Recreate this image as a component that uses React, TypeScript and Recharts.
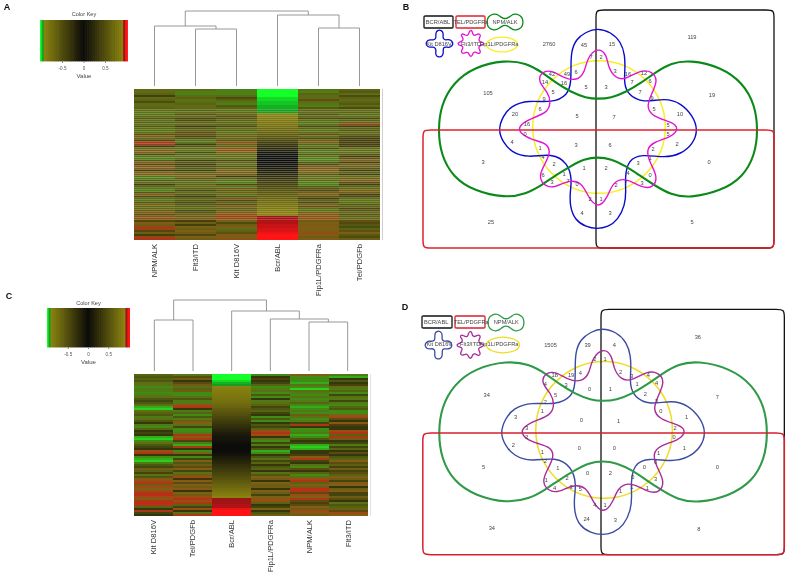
import React from 'react';
import { BarChart, Bar, Cell, ComposedChart, Line, LabelList, XAxis, YAxis } from 'recharts';

const FONT = '"Liberation Sans", Arial, sans-serif';

// heatmap A, one list per column, top row first
const npmA = [-5,-5,-4,-1,-5,-4,-2,-5,-5,-4,-5,-6,-6,-5,-3,-5,-4,-6,-3,-5,-6,-6,3,6,-5,-2,9,9,-1,-5,6,5,-2,-6,-7,-3,6,-2,7,5,-1,5,6,-6,-7,-3,-5,-1,-4,-6,-7,3,5,-2,-5,-6,-3,5,-5,-5,4,6,3,6,7,2,5,4,8,8,2,4,-1,8,9];
const flt3A = [-5,-7,-7,-5,-4,-6,-5,-4,-5,-5,-4,-6,3,-5,-2,-2,-4,-5,-1,-3,-4,3,3,2,-3,-6,-6,-1,-3,-5,-6,-2,-4,-6,-5,-1,-3,1,-2,-3,-1,-4,4,5,-3,-4,-5,-4,-5,-4,-2,-5,-3,-1,-4,-3,-2,-3,-4,-5,-2,-3,4,4,5,1,4,-1,5,4,5,4,2,5,4];
const kitA = [-7,-7,-7,-5,-2,-4,-6,-7,-3,-4,-6,-5,-5,3,-3,-4,-5,-4,-2,-5,-4,-6,-5,4,-5,-3,7,4,-4,6,7,5,-5,-5,-6,2,-4,-5,-3,-4,5,5,4,-1,-4,-5,-7,2,-6,4,-4,4,-6,3,4,2,-4,3,5,-4,4,5,7,8,7,5,-2,4,5,-5,-4,3,6,5,7];
const bcrA = [-1,-1,-1,-1,-0.98,-0.98,-0.97,-0.97,-0.96,-0.96,-0.95,-0.95,-0.9,-0.88,-0.85,-0.82,-0.8,-0.78,-0.75,-0.72,-0.7,-0.66,-0.62,-0.58,-0.52,-0.46,-0.4,-0.34,-0.28,-0.22,-0.15,-0.08,-0.04,-0.02,0,0,0.02,0.04,0.07,0.1,0.14,0.18,0.22,0.26,0.3,0.34,0.38,0.42,0.46,0.5,0.54,0.57,0.6,0.64,0.67,0.7,0.73,0.76,0.79,0.82,0.85,0.88,0.9,0.95,0.95,0.96,0.96,0.97,0.97,0.98,0.98,0.99,1,1,1];
const fipA = [-6,-7,-4,-5,-5,3,-5,-6,-7,-3,-4,-5,-3,-5,-2,-5,-6,-6,-2,-4,-6,-5,3,-5,-2,4,5,-4,-6,-2,-6,-6,-3,-5,-7,-7,-3,2,4,6,5,5,-3,-5,-6,4,-7,-7,-3,3,-2,4,5,3,-1,-4,-2,5,3,-5,-6,5,6,7,7,4,5,6,5,5,6,7,6,4,6];
const telA = [-4,-3,-5,-2,-4,-5,-4,-3,-5,-2,-5,-4,-5,-6,-2,-4,-5,8,-1,-4,-3,-5,-4,-2,1,1,1,1,1,-5,-5,-6,3,-1,3,5,1,4,4,-3,1,-4,-1,-5,4,5,3,-1,-4,-5,5,4,-1,2,-5,-6,-5,-3,-4,2,-3,-5,3,-4,-5,3,2,-3,-2,-4,3,5,-3,-2,4];

// heatmap C
const kitC = [-4,-3,-4,-3,-5,-5,-7,-6,-6,-7,-6,-5,-3,-2,-3,-5,-8,-9,-5,-4,-3,-6,-5,-3,-1,-6,-7,-4,-1,-2,-1,-8,-9,-7,-5,-3,-2,-1,7,8,-1,-7,-8,-9,-6,-3,-2,4,-4,2,-5,-3,6,7,8,4,7,5,7,8,9,7,6,8,9,8,-4,-1,8,-2,-1];
const telC = [-6,3,4,-1,3,4,-5,-4,4,-7,-7,-5,-3,-6,-6,7,8,-1,-6,-4,-7,-3,-6,4,5,-5,-2,-7,-7,-6,8,6,8,-2,-6,-8,8,-1,-7,5,-1,-7,-2,5,-3,4,3,5,-2,-5,4,7,1,5,3,5,4,6,-1,5,4,7,8,7,8,-4,-2,7,-1,-5,8];
const bcrC = [-1,-1,-1,-0.98,-0.96,-0.95,-0.9,-0.88,-0.86,-0.84,-0.82,-0.8,-0.78,-0.76,-0.74,-0.7,-0.66,-0.62,-0.58,-0.54,-0.5,-0.46,-0.42,-0.38,-0.34,-0.3,-0.26,-0.22,-0.18,-0.14,-0.1,-0.08,-0.06,-0.04,-0.02,0,0,0,0,0.03,0.06,0.1,0.14,0.18,0.22,0.26,0.3,0.34,0.38,0.42,0.46,0.5,0.54,0.58,0.62,0.66,0.7,0.74,0.78,0.82,0.86,0.9,0.95,0.95,0.95,0.96,0.96,0.99,1,1,1];
const fipC = [-7,-1,2,-1,-2,-4,-7,-6,-5,-7,-3,-7,-1,-6,-5,-4,-2,-3,-4,-2,-1,-7,-3,-7,-1,-3,-2,-4,7,8,7,-1,-5,-7,-2,-6,-1,-3,-8,-7,-1,-3,-5,-2,-4,-1,-3,-4,-1,-5,-3,5,4,-1,5,4,4,-1,5,4,-2,5,6,7,-4,-1,-2,5,-1,-3,4];
const npmC = [5,-7,-7,-7,-8,-5,-7,-9,-5,-6,-7,-5,-7,-6,-4,-7,-8,-7,-6,-7,4,-5,-7,-6,-2,8,-1,-7,-7,-6,-8,-7,-3,-1,-2,-8,-9,-8,-1,-1,2,5,8,-2,-1,-5,-7,3,1,-4,-7,-5,7,8,-4,5,4,9,8,3,7,5,8,3,2,3,5,4,7,6,4];
const flt3C = [-6,-8,-1,-3,-1,2,-5,-6,-4,-7,-2,-5,-6,-2,-6,-7,-4,-3,-7,-7,5,7,3,-1,6,2,1,-1,7,8,-4,8,4,-1,-2,-6,-2,-4,-1,3,-1,-3,-4,5,3,-4,2,4,-2,3,-4,5,4,-2,6,5,-1,4,5,2,-2,4,3,-1,-5,-3,-4,4,3,7,5];

const columnsA = [
	{ name: 'NPM/ALK', values: npmA },
	{ name: 'Flt3/ITD', values: flt3A },
	{ name: 'Kit D816V', values: kitA },
	{ name: 'Bcr/ABL', values: bcrA, sorted: true },
	{ name: 'Fip1L/PDGFRa', values: fipA },
	{ name: 'Tel/PDGFb', values: telA },
];
const columnsC = [
	{ name: 'Kit D816V', values: kitC },
	{ name: 'Tel/PDGFb', values: telC },
	{ name: 'Bcr/ABL', values: bcrC, sorted: true },
	{ name: 'Fip1L/PDGFRa', values: fipC },
	{ name: 'NPM/ALK', values: npmC },
	{ name: 'Flt3/ITD', values: flt3C },
];

// dendrogram merges: x1, h1, x2, h2, merge height
const mergesA = [
	[1.5, 0, 2.5, 0, 57],
	[0.5, 0, 2, 57, 60],
	[4.5, 0, 5.5, 0, 58],
	[3.5, 0, 5, 58, 71],
	[1.25, 60, 4.25, 71, 75],
];
const mergesC = [
	[0.5, 0, 1.5, 0, 51],
	[4.5, 0, 5.5, 0, 49],
	[3.5, 0, 5, 49, 52],
	[2.5, 0, 4.25, 52, 60],
	[1, 51, 3.4, 60, 71],
];

const keyLevels = [-1,-0.95,-0.9,-0.85,-0.8,-0.75,-0.7,-0.65,-0.6,-0.55,-0.5,-0.45,-0.4,-0.35,-0.3,-0.25,-0.2,-0.15,-0.1,-0.05,0,0.05,0.1,0.15,0.2,0.25,0.3,0.35,0.4,0.45,0.5,0.55,0.6,0.65,0.7,0.75,0.8,0.85,0.9,0.95,1];
const keyTicks = [-0.5, 0, 0.5];

// colours for the mixed columns, value -9..9
const heatScale = [[30,235,30],[40,190,25],[55,150,20],[75,130,20],[90,115,20],[85,100,18],[70,85,15],[55,65,12],[40,45,10],[30,30,10],[50,42,10],[70,55,12],[90,70,15],[115,90,20],[135,95,20],[145,85,20],[170,70,20],[190,45,20],[215,30,25]];
const heatMean = [102, 96, 20];

// venn outlines, centre of the diagram at 0,0
const greenOutline = [[-158,0],[-155,-25],[-143,-47],[-122,-63],[-91,-70],[-70,-67],[-54,-58],[-40,-47],[-25,-38],[-10,-32],[2,-31],[15,-32],[30,-38],[45,-47],[60,-58],[75,-67],[94,-70],[125,-63],[147,-47],[159,-25],[162,0],[159,25],[147,47],[125,61],[94,68],[75,65],[58,55],[43,45],[30,36],[15,29],[2,27],[-12,29],[-25,36],[-40,45],[-54,55],[-70,64],[-91,68],[-122,61],[-143,47],[-155,25]];
const blueOutline = [[1,-102],[15,-98],[25,-88],[29,-75],[29,-60],[28,-47],[32,-35],[47,-27],[69,-32],[85,-27],[97,-14],[102,0],[97,14],[85,24],[69,28],[46,24],[32,30],[29,47],[30,62],[29,75],[22,90],[12,97],[1,99],[-10,97],[-21,90],[-26,77],[-26,62],[-24,50],[-28,33],[-44,23],[-68,28],[-85,22],[-93,12],[-98,0],[-93,-14],[-85,-24],[-68,-30],[-44,-27],[-28,-35],[-25,-48],[-25,-62],[-25,-78],[-20,-91],[-10,-98]];
const magentaOutline = [[2,-83],[-9,-72],[-11,-58],[-19,-49],[-33,-52],[-44,-60],[-55,-58],[-58,-48],[-48,-38],[-45,-27],[-49,-17],[-64,-12],[-77,-5],[-77,3],[-64,10],[-49,13],[-45,23],[-53,37],[-57,47],[-52,56],[-41,58],[-28,50],[-14,52],[-8,67],[2,79],[12,67],[16,53],[29,47],[46,58],[57,58],[62,47],[54,33],[50,20],[57,12],[76,7],[83,-2],[76,-8],[57,-13],[50,-23],[56,-37],[62,-50],[56,-59],[44,-60],[29,-50],[19,-52],[12,-63],[11,-75]];
const yellowOutline = [[71,-3],[66,23],[51,45],[29,60],[3,65],[-23,60],[-45,45],[-60,23],[-65,-3],[-60,-29],[-45,-51],[-23,-66],[3,-71],[29,-66],[51,-51],[66,-29]];
const blackOutline = [[0,-104],[0,-112],[0,-120],[8,-120],[16,-120],[162,-120],[170,-120],[178,-120],[178,-112],[178,-104],[178,102],[178,110],[178,118],[170,118],[162,118],[16,118],[8,118],[0,118],[0,110],[0,102]];
const redOutline = [[-173,16],[-173,8],[-173,0],[-165,0],[-157,0],[162,0],[170,0],[178,0],[178,8],[178,16],[178,102],[178,110],[178,118],[170,118],[162,118],[-157,118],[-165,118],[-173,118],[-173,110],[-173,102]];
const legendBox = [[0,3],[0,1.5],[0,0],[1.5,0],[3,0],[27,0],[28.5,0],[30,0],[30,1.5],[30,3],[30,9],[30,10.5],[30,12],[28.5,12],[27,12],[3,12],[1.5,12],[0,12],[0,10.5],[0,9]];

// region counts: x, y, count
const countsB = [[-47,-86,2760],[-12,-85,45],[16,-86,15],[96,-93,119],[-5,-73,7],[5,-73,2],[-44,-56,42],[-29,-56,49],[-20,-58,6],[19,-59,3],[32,-56,16],[48,-57,12],[-51,-48,14],[-32,-47,16],[-10,-43,5],[10,-43,3],[36,-48,7],[54,-49,6],[-108,-37,105],[116,-35,19],[-43,-38,5],[44,-38,7],[-52,-31,9],[56,-32,9],[-56,-21,6],[58,-21,5],[-81,-16,20],[84,-16,10],[-19,-14,5],[18,-13,7],[-69,-6,16],[72,-5,5],[-71,4,0],[72,4,5],[-84,12,4],[81,14,2],[-20,15,3],[14,15,6],[-56,18,1],[57,19,2],[-53,27,4],[54,28,1],[-113,32,3],[113,32,0],[-42,34,2],[42,33,3],[-53,45,6],[-32,44,1],[-12,38,1],[10,38,2],[32,43,4],[54,45,0],[-44,52,3],[-28,51,7],[-19,54,0],[20,55,2],[30,52,7],[46,53,3],[-6,69,2],[5,69,1],[-14,83,4],[14,83,3],[-105,92,25],[96,92,5]];
const countsD = [[-49,-85,1505],[-13,-85,39],[13,-85,4],[94,-93,36],[-6,-72,2],[4,-72,1],[-45,-56,18],[-29,-56,19],[-20,-58,4],[19,-59,2],[30,-55,3],[46,-56,4],[-54,-48,4],[-34,-47,3],[-11,-43,0],[9,-43,1],[35,-48,1],[54,-49,4],[-111,-37,34],[113,-35,7],[-44,-37,5],[43,-38,2],[-54,-30,2],[54,-31,3],[-57,-21,1],[58,-21,0],[-83,-16,3],[83,-16,1],[-19,-13,0],[17,-12,1],[-72,-5,3],[72,-5,2],[-72,4,2],[71,4,0],[-85,12,2],[81,15,1],[-21,15,0],[13,15,0],[-57,18,1],[56,19,1],[-54,27,2],[53,28,0],[-114,33,5],[113,33,0],[-42,34,1],[42,33,0],[-53,46,1],[-33,44,2],[-13,39,0],[9,39,2],[31,43,0],[53,45,3],[-45,53,4],[-29,52,3],[-20,54,5],[19,56,1],[30,52,1],[45,53,1],[-6,70,4],[4,70,1],[-14,83,24],[14,84,3],[-106,92,34],[95,93,8]];

const legendNames = ['BCR/ABL', 'TEL/PDGFRa', 'NPM/ALK', 'Kit D816V', 'Flt3/ITD', 'Fip1L/PDGFRa'];
const legendXB = [-158, -125, -91, -157, -125, -97];
const legendXD = [-160, -126, -92, -157, -127, -99];
const legendY = [-108, -108, -108, -86, -86, -86];

const coloursB = { black: '#111111', red: '#e2202c', green: '#0b8a1a', blue: '#0a0acb', magenta: '#e214d2', yellow: '#f8ee22' };
const coloursD = { black: '#111111', red: '#d6202e', green: '#2f9a48', blue: '#3c4ba2', magenta: '#a92b9c', yellow: '#eddd24' };

const keyColour = (v: number) => {
	if (v <= -0.94) {
		const t = (-v - 0.94) / 0.06;
		return `rgb(20,${Math.round(140 + 115 * t)},${Math.round(30 + 10 * t)})`;
	}
	if (v >= 0.94) {
		const t = (v - 0.94) / 0.06;
		return `rgb(${Math.round(140 + 115 * t)},20,22)`;
	}
	const m = Math.abs(v) / 0.9;
	return `rgb(${Math.round(12 + 125 * m)},${Math.round(12 + 118 * m)},${Math.round(10 + 6 * m)})`;
};

const heatColour = (v: number, soften: number) => {
	const [r, g, b] = heatScale[v + 9].map((c, i) => Math.round(c + (heatMean[i] - c) * soften));
	return `rgb(${r},${g},${b})`;
};

const toPoints = (outline: number[][]) => outline.map(([x, y]) => ({ x, y }));

const Caption = ({ x, y, text, size, bold }: any) => (
	<div style={{ position: 'absolute', left: x - 50, top: y - size / 2 - 1, width: 100, textAlign: 'center', fontFamily: FONT, fontSize: size, lineHeight: `${size + 2}px`, fontWeight: bold ? 700 : 400, color: bold ? '#111' : '#444' }}>{text}</div>
);

const ColorKey = ({ left, top, width, height }: any) => {
	const data = keyLevels.map((v) => ({ v, one: 1 }));
	return (
		<div style={{ position: 'absolute', left, top }}>
			<BarChart width={width} height={height + 20} data={data} barCategoryGap={0} margin={{ top: 0, right: 0, bottom: 0, left: 0 }}>
				<XAxis dataKey="v" ticks={keyTicks} interval={0} height={20} tickSize={2} tickMargin={4} tick={{ fontSize: 4.6, fontFamily: FONT, fill: '#555' }} stroke="#888" axisLine={false} label={{ value: 'Value', position: 'insideBottom', offset: 3, fontSize: 6, fontFamily: FONT, fill: '#444' }} />
				<YAxis hide domain={[0, 1]} />
				<Bar dataKey="one" isAnimationActive={false}>
					{data.map((d) => <Cell key={d.v} fill={keyColour(d.v)} stroke={keyColour(d.v)} strokeWidth={1} />)}
				</Bar>
			</BarChart>
		</div>
	);
};

const Dendrogram = ({ merges, left, top, width, height }: any) => (
	<div style={{ position: 'absolute', left, top }}>
		<ComposedChart width={width} height={height} margin={{ top: 0, right: 0, bottom: 0, left: 0 }}>
			<XAxis hide type="number" dataKey="x" domain={[0, 6]} />
			<YAxis hide type="number" dataKey="y" domain={[0, 80]} />
			{merges.map(([x1, h1, x2, h2, h]: number[], i: number) => (
				<Line key={i} data={[{ x: x1, y: h1 }, { x: x1, y: h }, { x: x2, y: h }, { x: x2, y: h2 }]} dataKey="y" type="linear" stroke="#8c8c8c" strokeWidth={0.9} dot={false} isAnimationActive={false} />
			))}
		</ComposedChart>
	</div>
);

const ColumnTick = ({ x, y, payload }: any) => (
	<text transform={`translate(${x + 2.7},${y}) rotate(-90)`} textAnchor="end" fontSize={7.6} fontFamily={FONT} fill="#333">{payload.value}</text>
);

const Heatmap = ({ columns, left, top, width, height, soften }: any) => {
	const rowCount = columns[0].values.length;
	const rows = Array.from({ length: rowCount }, (_, i) => i);
	const data = columns.map((c: any) => {
		const d: any = { name: c.name };
		rows.forEach((r) => { d[`r${r}`] = 1; });
		return d;
	});
	return (
		<div style={{ position: 'absolute', left, top, width, height: height + 72, filter: 'blur(0.4px)' }}>
			<BarChart width={width} height={height + 72} data={data} barCategoryGap={0} margin={{ top: 0, right: 0, bottom: 0, left: 0 }}>
				<XAxis dataKey="name" interval={0} height={72} axisLine={false} tickLine={false} tickSize={0} tickMargin={4} tick={<ColumnTick />} />
				<YAxis hide reversed domain={[0, rowCount]} />
				{rows.map((r) => (
					<Bar key={r} dataKey={`r${r}`} stackId="rows" isAnimationActive={false} stroke="none">
						{columns.map((c: any) => (
							<Cell key={c.name} fill={c.sorted ? keyColour(c.values[r]) : heatColour(c.values[r], soften)} />
						))}
					</Bar>
				))}
			</BarChart>
		</div>
	);
};

const vennLine = (key: string, outline: number[][], stroke: string, width: number) => (
	<Line key={key} data={toPoints(outline)} dataKey="y" type="basisClosed" stroke={stroke} strokeWidth={width} dot={false} isAnimationActive={false} />
);

const Glyph = ({ outline, xDomain, yDomain, left, top, width, height, stroke, strokeWidth }: any) => (
	<div style={{ position: 'absolute', left: left - 2, top: top - 2 }}>
		<ComposedChart width={width + 4} height={height + 4} margin={{ top: 2, right: 2, bottom: 2, left: 2 }}>
			<XAxis hide type="number" dataKey="x" domain={xDomain} />
			<YAxis hide reversed type="number" dataKey="y" domain={yDomain} />
			<Line data={toPoints(outline)} dataKey="y" type="basisClosed" stroke={stroke} strokeWidth={strokeWidth} dot={false} isAnimationActive={false} />
		</ComposedChart>
	</div>
);

const Venn = ({ counts, colours, legendX, left, top, width, height, fontSize }: any) => {
	const countData = counts.map(([x, y, n]: number[]) => ({ x, y, n }));
	const legendData = legendNames.map((n, i) => ({ x: legendX[i], y: legendY[i], n }));
	return (
		<div style={{ position: 'absolute', left, top }}>
			<ComposedChart width={width} height={height} margin={{ top: 0, right: 0, bottom: 0, left: 0 }}>
				<XAxis hide type="number" dataKey="x" domain={[-200, 200]} />
				<YAxis hide reversed type="number" dataKey="y" domain={[-130, 130]} />
				{vennLine('yellow', yellowOutline, colours.yellow, 1.5)}
				{vennLine('black', blackOutline, colours.black, 1.3)}
				{vennLine('blue', blueOutline, colours.blue, 1.4)}
				{vennLine('green', greenOutline, colours.green, 2.1)}
				{vennLine('red', redOutline, colours.red, 1.5)}
				{vennLine('magenta', magentaOutline, colours.magenta, 1.4)}
				<Line data={countData} dataKey="y" stroke="none" dot={false} isAnimationActive={false}>
					<LabelList dataKey="n" position="center" fontSize={fontSize} fontFamily={FONT} fill="#444" stroke="none" />
				</Line>
				<Line data={legendData} dataKey="y" stroke="none" dot={false} isAnimationActive={false}>
					<LabelList dataKey="n" position="center" fontSize={fontSize} fontFamily={FONT} fill="#444" stroke="none" />
				</Line>
			</ComposedChart>
		</div>
	);
};

const VennLegend = ({ c, rows }: any) => (
	<>
		<Glyph outline={legendBox} xDomain={[0, 30]} yDomain={[0, 12]} {...rows[0]} stroke={c.black} strokeWidth={1.3} />
		<Glyph outline={legendBox} xDomain={[0, 30]} yDomain={[0, 12]} {...rows[1]} stroke={c.red} strokeWidth={1.3} />
		<Glyph outline={greenOutline} xDomain={[-158, 162]} yDomain={[-70, 68]} {...rows[2]} stroke={c.green} strokeWidth={1.3} />
		<Glyph outline={blueOutline} xDomain={[-98, 102]} yDomain={[-102, 99]} {...rows[3]} stroke={c.blue} strokeWidth={1.3} />
		<Glyph outline={magentaOutline} xDomain={[-77, 83]} yDomain={[-83, 79]} {...rows[4]} stroke={c.magenta} strokeWidth={1.3} />
		<Glyph outline={yellowOutline} xDomain={[-65, 71]} yDomain={[-71, 65]} {...rows[5]} stroke={c.yellow} strokeWidth={1.3} />
	</>
);

const legendRowsB = [
	{ left: 424, top: 16, width: 29, height: 12 },
	{ left: 456, top: 16, width: 29, height: 12 },
	{ left: 487, top: 14, width: 36, height: 16 },
	{ left: 426, top: 30, width: 27, height: 27 },
	{ left: 458, top: 30, width: 26, height: 27 },
	{ left: 486, top: 37, width: 32, height: 15 },
];
const legendRowsD = [
	{ left: 422, top: 316, width: 30, height: 12 },
	{ left: 455, top: 316, width: 30, height: 12 },
	{ left: 488, top: 314, width: 36, height: 17 },
	{ left: 425, top: 331, width: 27, height: 28 },
	{ left: 457, top: 331, width: 27, height: 28 },
	{ left: 486, top: 337, width: 34, height: 16 },
];

export default function App() {
	return (
		<div style={{ position: 'absolute', left: 0, top: 0, width: 789, height: 573, overflow: 'hidden', background: '#fff', filter: 'blur(0.3px)' }}>
			<Caption x={7} y={7} text="A" size={9} bold />
			<Caption x={406} y={7} text="B" size={9} bold />
			<Caption x={9} y={296} text="C" size={9} bold />
			<Caption x={405} y={307} text="D" size={9} bold />

			<Caption x={84} y={14.5} text="Color Key" size={5.6} />
			<ColorKey left={40} top={20} width={88} height={41} />
			<Caption x={88.5} y={303.5} text="Color Key" size={5.6} />
			<ColorKey left={47} top={308} width={83} height={39} />

			<Dendrogram merges={mergesA} left={134} top={6} width={246} height={80} />
			<Heatmap columns={columnsA} left={134} top={89} width={246} height={151} soften={0.4} />
			<div style={{ position: 'absolute', left: 382, top: 89, width: 1, height: 151, background: '#cfcfcf' }} />

			<Dendrogram merges={mergesC} left={135} top={291} width={232} height={80} />
			<Heatmap columns={columnsC} left={134} top={374} width={234} height={142} soften={0.2} />
			<div style={{ position: 'absolute', left: 370, top: 374, width: 1, height: 142, background: '#e2e2e2' }} />

			<VennLegend c={coloursB} rows={legendRowsB} />
			<VennLegend c={coloursD} rows={legendRowsD} />
			<Venn counts={countsB} colours={coloursB} legendX={legendXB} left={396} top={0} width={400} height={260} fontSize={5.7} />
			<Venn counts={countsD} colours={coloursD} legendX={legendXD} left={395} top={299.3} width={412} height={268} fontSize={5.7} />
		</div>
	);
}
